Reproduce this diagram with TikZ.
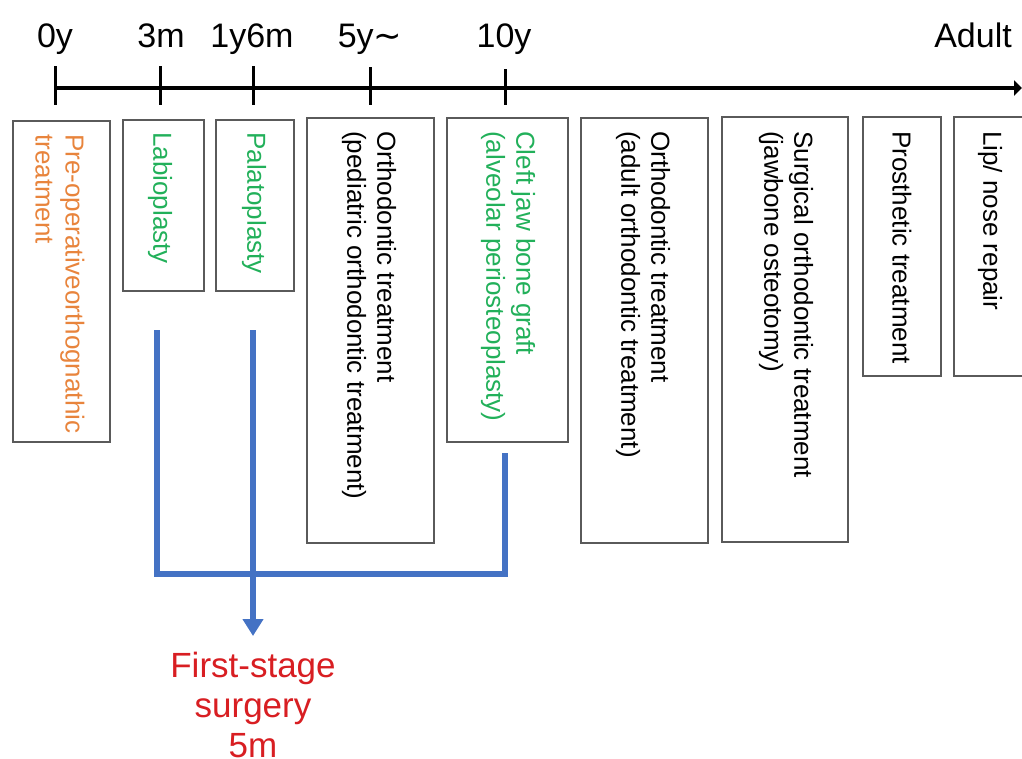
\documentclass[tikz,border=0pt]{standalone}
\usepackage{fontspec}
\setmainfont{Liberation Sans}
\newfontfamily\symfont{DejaVu Sans}
\usetikzlibrary{arrows.meta}
\definecolor{boxgray}{HTML}{5A5A5A}
\definecolor{txtorange}{HTML}{E8843C}
\definecolor{txtgreen}{HTML}{22B05A}
\definecolor{txtred}{HTML}{D81E22}
\definecolor{connblue}{HTML}{4472C4}
\tikzset{
  box/.style={draw=boxgray, line width=1.3pt, inner sep=0pt, outer sep=0pt},
  vtext/.style={rotate=-90, anchor=west, align=left, inner sep=0pt,
    font=\fontsize{26}{30}\selectfont},
  axislabel/.style={anchor=base, inner sep=0pt, font=\fontsize{34}{40}\selectfont},
  tick/.style={line width=3pt},
  conn/.style={draw=connblue, line width=6pt},
}
\begin{document}
\begin{tikzpicture}[x=1pt,y=-1pt]
\useasboundingbox (0,0) rectangle (1022,758);
\clip (0,0) rectangle (1022,758);

% axis
\coordinate (ax0) at (55,88);
\coordinate (axend) at (1022,88);
\draw[line width=4pt, -{Triangle[width=15pt,length=8pt]}] (ax0) -- (axend);
\foreach \x/\ya in {55/66,160/66,253/66,370/67,505/69}{
  \draw[tick] (\x,\ya) -- (\x,105);
}
\node[axislabel] (l0) at (55,47) {0y};
\node[axislabel] (l1) at (161,47) {3m};
\node[axislabel] (l2) at (252,47) {1y6m};
\node[axislabel] (l3) at (370,47) {5y{\symfont∼}};
\node[axislabel] (l4) at (504,47) {10y};
\node[axislabel] (l5) at (973,47) {Adult};

% boxes
\node[box, minimum width=97pt, minimum height=321pt] (pre) at (61.5,281.5) {};
\node[box, minimum width=81pt, minimum height=171pt] (labio) at (163.5,205.5) {};
\node[box, minimum width=78pt, minimum height=171pt] (palato) at (255,205.5) {};
\node[box, minimum width=127pt, minimum height=425pt] (orthoped) at (370.5,330.5) {};
\node[box, minimum width=121pt, minimum height=324pt] (cleft) at (507.5,280) {};
\node[box, minimum width=127pt, minimum height=425pt] (orthoad) at (644.5,330.5) {};
\node[box, minimum width=126pt, minimum height=425pt] (surgical) at (785,329.5) {};
\node[box, minimum width=78pt, minimum height=259pt] (prosth) at (902,246.5) {};
\node[box, minimum width=72pt, minimum height=259pt] (lip) at (990,246.5) {};

% box texts
\node[vtext, text=txtorange] (tpre) at (60,134) {Pre-operativeorthognathic\\treatment};
\node[vtext, text=txtgreen] (tlabio) at (160,132) {Labioplasty};
\node[vtext, text=txtgreen] (tpalato) at (254,132) {Palatoplasty};
\node[vtext] (torthoped) at (369,131) {Orthodontic treatment\\(pediatric orthodontic treatment)};
\node[vtext, text=txtgreen] (tcleft) at (508,131) {Cleft jaw bone graft\\(alveolar periosteoplasty)};
\node[vtext] (torthoad) at (643,131) {Orthodontic treatment\\(adult orthodontic treatment)};
\node[vtext] (tsurgical) at (786,131) {Surgical orthodontic treatment\\(jawbone osteotomy)};
\node[vtext] (tprosth) at (902,131) {Prosthetic treatment};
\node[vtext] (tlip) at (990,131) {Lip/ nose repair};

% first-stage surgery
\node[anchor=north, align=center, inner sep=0pt, text=txtred,
  font=\fontsize{35}{40}\selectfont] (surg) at (253,652) {First-stage\\surgery\\5m};

% connectors
\coordinate (labfoot) at (157,330);
\coordinate (labcorner) at (157,574);
\coordinate (cleftcorner) at (505,574);
\coordinate (cleftfoot) at (505,453);
\coordinate (palfoot) at (253,330);
\coordinate (arrowtip) at (253,636);
\draw[conn] (labfoot) -- (labcorner) -- (cleftcorner) -- (cleftfoot);
\draw[conn, -{Triangle[width=20pt,length=17pt]}] (palfoot) -- (arrowtip);
\end{tikzpicture}
\end{document}
